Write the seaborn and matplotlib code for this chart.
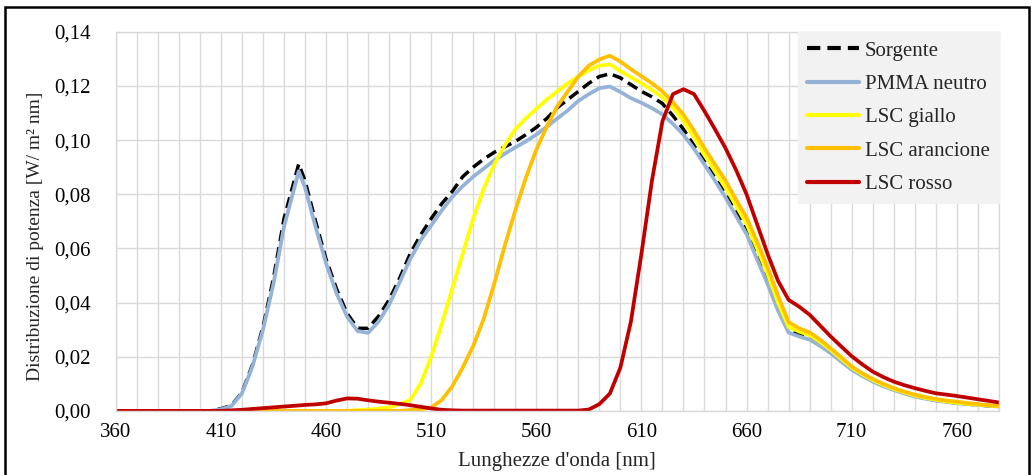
import numpy as np
import pandas as pd
import matplotlib
matplotlib.use("Agg")
import matplotlib.pyplot as plt
from matplotlib.ticker import FuncFormatter, FixedLocator
from matplotlib.patches import Rectangle
import seaborn as sns

wavelength = ([360, 365, 370, 375, 380, 385, 390, 395, 400, 405,
               410, 415, 420, 425, 430, 435, 440, 447, 450, 455]
              + list(range(460, 785, 5)))

sorgente = [0, 0, 0, 0, 0, 0, 0, 0, 0, 0,
            0.0008, 0.002, 0.0068, 0.017, 0.031, 0.049, 0.071, 0.0912, 0.0850, 0.070,
            0.056, 0.045, 0.036, 0.0305, 0.0305, 0.035, 0.041, 0.049, 0.058, 0.065,
            0.071, 0.0765, 0.081, 0.0865, 0.090, 0.093, 0.0955, 0.0975, 0.0995, 0.102,
            0.1047, 0.108, 0.112, 0.115, 0.118, 0.121, 0.1235, 0.1245, 0.123, 0.1205,
            0.118, 0.116, 0.1135, 0.109, 0.104, 0.098, 0.092, 0.086, 0.080, 0.0735,
            0.067, 0.058, 0.0485, 0.038, 0.030, 0.0285, 0.027, 0.0245, 0.022, 0.019,
            0.0158, 0.0133, 0.0112, 0.0094, 0.0079, 0.0066, 0.0055, 0.0046, 0.0039, 0.0034,
            0.0029, 0.0025, 0.0022, 0.0019, 0.0017]

pmma = [0, 0, 0, 0, 0, 0, 0, 0, 0, 0,
        0.0006, 0.0018, 0.0065, 0.0164, 0.030, 0.047, 0.068, 0.0885, 0.0825, 0.068,
        0.0545, 0.0434, 0.0348, 0.0295, 0.0288, 0.033, 0.0392, 0.0475, 0.056, 0.063,
        0.0685, 0.074, 0.079, 0.083, 0.0865, 0.0895, 0.0925, 0.095, 0.0973, 0.0995,
        0.102, 0.105, 0.108, 0.111, 0.1145, 0.117, 0.1192, 0.1198, 0.1178, 0.1155,
        0.1138, 0.1118, 0.1095, 0.106, 0.102, 0.0968, 0.091, 0.085, 0.0788, 0.072,
        0.0653, 0.056, 0.0469, 0.037, 0.0289, 0.0275, 0.0263, 0.024, 0.0213, 0.0182,
        0.0152, 0.0129, 0.0108, 0.0091, 0.0077, 0.0064, 0.0053, 0.0045, 0.0038, 0.0033,
        0.0028, 0.0025, 0.0022, 0.0019, 0.0016]

giallo = [0, 0, 0, 0, 0, 0, 0, 0, 0, 0,
          0, 0, 0, 0, 0, 0, 0, 0, 0, 0,
          0, 0, 0, 0.0003, 0.0005, 0.0008, 0.0013, 0.0025, 0.004, 0.010,
          0.020, 0.032, 0.045, 0.058, 0.071, 0.082, 0.091, 0.098, 0.104, 0.108,
          0.1115, 0.115, 0.118, 0.121, 0.1235, 0.1258, 0.1275, 0.128, 0.1255, 0.1232,
          0.121, 0.1185, 0.1158, 0.112, 0.107, 0.101, 0.0947, 0.0887, 0.0825, 0.0758,
          0.069, 0.060, 0.0506, 0.040, 0.031, 0.0293, 0.0279, 0.0255, 0.0225, 0.0192,
          0.016, 0.0135, 0.0114, 0.0096, 0.0081, 0.0068, 0.0057, 0.0048, 0.0041, 0.0035,
          0.003, 0.0026, 0.0023, 0.002, 0.0017]

arancione = [0, 0, 0, 0, 0, 0, 0, 0, 0, 0,
             0, 0, 0, 0, 0, 0, 0, 0, 0, 0,
             0, 0, 0, 0, 0, 0, 0, 0, 0.0003, 0.0006,
             0.0012, 0.004, 0.009, 0.016, 0.024, 0.034, 0.047, 0.061, 0.074, 0.086,
             0.0965, 0.105, 0.1125, 0.118, 0.1235, 0.1275, 0.1298, 0.1312, 0.129, 0.1262,
             0.1236, 0.121, 0.118, 0.114, 0.1094, 0.1035, 0.097, 0.091, 0.085, 0.078,
             0.0714, 0.0625, 0.053, 0.0425, 0.0328, 0.0305, 0.029, 0.0263, 0.0231, 0.0198,
             0.0164, 0.0139, 0.0118, 0.0100, 0.0084, 0.0071, 0.006, 0.0051, 0.0044, 0.0038,
             0.0034, 0.0029, 0.0025, 0.0021, 0.0018]

rosso = [0, 0, 0, 0, 0, 0, 0, 0, 0, 0,
         0, 0.0002, 0.0004, 0.0007, 0.001, 0.0013, 0.0016, 0.0020, 0.0022, 0.0024,
         0.0028, 0.0038, 0.0046, 0.0045, 0.0039, 0.0034, 0.0030, 0.0026, 0.0021, 0.0015,
         0.0009, 0.0004, 0.0002, 0.0001, 0.0001, 0.0001, 0.0001, 0.0001, 0.0001, 0.0001,
         0.0001, 0.0001, 0.0001, 0.0001, 0.0001, 0.0005, 0.0025, 0.0064, 0.016, 0.033,
         0.058, 0.085, 0.107, 0.117, 0.1188, 0.117, 0.1107, 0.104, 0.097, 0.089,
         0.080, 0.069, 0.058, 0.048, 0.041, 0.0385, 0.0355, 0.0315, 0.0275, 0.0238,
         0.0202, 0.0172, 0.0145, 0.0125, 0.0108, 0.0095, 0.0084, 0.0074, 0.0065, 0.006,
         0.0055, 0.0049, 0.0043, 0.0037, 0.0031]

series_names = ["Sorgente", "PMMA neutro", "LSC giallo", "LSC arancione", "LSC rosso"]
series_values = [sorgente, pmma, giallo, arancione, rosso]
series_colors = ["#000000", "#95B3D7", "#FFFF00", "#FFC000", "#C00000"]
series_styles = [(0, (3.2, 1.7)), "-", "-", "-", "-"]

sns.set_theme(style="white")
plt.rcParams["font.family"] = ["Liberation Serif", "DejaVu Serif"]

fig = plt.figure(figsize=(10.34, 4.75), dpi=100)
ax = fig.add_axes([0.112, 0.135, 0.854, 0.798])

for name, vals, col, ls in zip(series_names, series_values, series_colors, series_styles):
    df = pd.DataFrame({"wl": wavelength, "val": vals})
    sns.lineplot(data=df, x="wl", y="val", ax=ax, color=col, linestyle=ls,
                 linewidth=2.7 if name != "Sorgente" else 2.5, label=name)

ax.set_xlim(360, 780)
ax.set_ylim(0, 0.14)
minor_x = list(range(360, 781, 10))
ax.xaxis.set_major_locator(FixedLocator(minor_x))
ax.set_xticklabels([str(v) if (v - 360) % 50 == 0 and v <= 760 else "" for v in minor_x])
ax.set_yticks(np.arange(0, 0.1401, 0.02))
ax.yaxis.set_major_formatter(FuncFormatter(lambda v, p: f"{v:.2f}".replace(".", ",")))
ax.grid(True, color="#D9D9D9", linewidth=1.0)
ax.set_axisbelow(True)
for s in ax.spines.values():
    s.set_color("#D9D9D9")
    s.set_linewidth(1.0)
ax.tick_params(axis="both", length=0, labelsize=15, colors="#000000")
ax.tick_params(axis="x", pad=9)
ax.tick_params(axis="y", pad=18)

ax.set_xlabel("Lunghezze d'onda [nm]", fontsize=15)
ax.set_ylabel("Distribuzione di potenza [W/ m² nm]", fontsize=14)
ax.xaxis.set_label_coords(0.5, -0.108)
ax.yaxis.set_label_coords(-0.081, 0.46)

leg = ax.legend(loc="upper right", bbox_to_anchor=(1.0, 1.0), borderaxespad=0.0,
                frameon=True, fontsize=15, handlelength=2.5, handletextpad=0.25,
                labelspacing=0.66, borderpad=0.45, fancybox=False)
leg.get_frame().set_facecolor("#F2F2F2")
leg.get_frame().set_edgecolor("#F2F2F2")
leg.get_frame().set_alpha(1.0)
for line in leg.get_lines():
    line.set_linewidth(3.0)

fig.add_artist(Rectangle((0.005, -0.05), 0.99, 1.035, transform=fig.transFigure,
                         fill=False, edgecolor="black", linewidth=1.8))

fig.savefig("out.png", dpi=100)
